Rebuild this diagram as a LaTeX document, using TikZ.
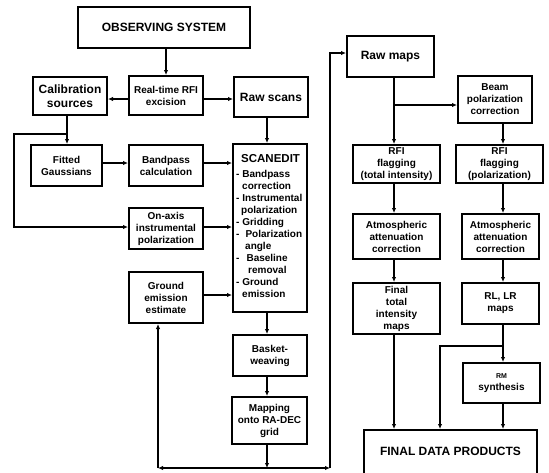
\documentclass[tikz,border=0pt]{standalone}
\usepackage{fontspec}
\setmainfont{Liberation Sans}
\usetikzlibrary{arrows.meta}
\begin{document}
\begin{tikzpicture}[x=1pt,y=-1pt,
  box/.style={draw, line width=2pt, inner sep=1pt, align=center, font=\bfseries\fontsize{10}{12}\selectfont},
  big/.style={font=\bfseries\fontsize{12}{14.5}\selectfont},
  sz/.style 2 args={minimum width=#1pt, minimum height=#2pt},
  arr/.style={line width=1.4pt, -{Latex[length=5pt,width=4.5pt]}},
  ln/.style={line width=1.4pt}]
\useasboundingbox (0,0) rectangle (549,472);
\clip (0,0) rectangle (549,472);
% left column nodes
\node[box, big, sz={172}{41}] (obs) at (164,27.5) {OBSERVING SYSTEM};
\node[box, big, sz={74}{38}] (cal) at (70,96) {Calibration\\sources};
\node[box, sz={74}{39}] (rfi) at (166,95.5) {Real-time RFI\\excision};
\node[box, big, sz={74}{40}] (raws) at (271,97) {Raw scans};
\node[box, sz={71}{41}] (fit) at (66.5,165.5) {Fitted\\Gaussians};
\node[box, sz={74}{41}] (band) at (166,165.5) {Bandpass\\calculation};
\node[box, sz={74}{168}] (scan) at (270,228) {};
\node[anchor=north west, align=left, inner sep=0pt, font=\bfseries\fontsize{10}{12}\selectfont] (scantext) at (236,154)
 {\hspace*{5pt}{\fontsize{11.5}{13}\selectfont SCANEDIT}\\[3.5pt]
  - Bandpass\\
  \hspace*{6pt}correction\\
  - Instrumental\\
  \hspace*{5pt}polarization\\
  - Gridding\\
  -\hspace*{6pt}Polarization\\
  \hspace*{9pt}angle\\
  -\hspace*{7pt}Baseline\\
  \hspace*{12pt}removal\\
  - Ground\\
  \hspace*{6pt}emission};
\node[box, sz={74}{41}] (onaxis) at (166,228.5) {On-axis\\instrumental\\polarization};
\node[box, sz={74}{51}] (ground) at (166,297.5) {Ground\\emission\\estimate};
\node[box, sz={74}{41}] (basket) at (270,355.5) {Basket-\\weaving};
\node[box, sz={75}{47}] (mapping) at (269.5,420.5) {Mapping\\onto RA-DEC\\grid};
% right columns
\node[box, big, sz={87}{41}] (rawmaps) at (390.5,56.5) {Raw maps};
\node[box, sz={74}{47}] (beam) at (495,99.5) {Beam\\polarization\\correction};
\node[box, sz={87}{38}] (rfit) at (396.5,164) {RFI\\flagging\\(total intensity)};
\node[box, sz={87}{38}] (rfip) at (499.5,164) {RFI\\flagging\\(polarization)};
\node[box, sz={87}{45}] (atml) at (396.5,236.5) {Atmospheric\\attenuation\\correction};
\node[box, sz={77}{45}] (atmr) at (500.5,236.5) {Atmospheric\\attenuation\\correction};
\node[box, sz={87}{51}] (finalt) at (396.5,308.5) {Final\\total\\intensity\\maps};
\node[box, sz={77}{41}] (rllr) at (500.5,303.5) {RL, LR\\maps};
\node[box, sz={77}{40}] (rm) at (501.5,383) {{\fontsize{7}{9}\selectfont RM}\\synthesis};
\node[box, big, sz={173}{60}] (fdp) at (450.5,460) {};
\node[big, inner sep=0pt] (fdptext) at (450.5,451) {FINAL DATA PRODUCTS};
% coordinates
\coordinate (j1) at (67,134);
\coordinate (jl) at (14,134);
\coordinate (jl2) at (14,227);
\coordinate (bl) at (158,468);
\coordinate (bm) at (267,468);
\coordinate (br) at (330,468);
\coordinate (tr) at (330,53);
\coordinate (rv) at (394,105);
\coordinate (rr) at (503,346);
\coordinate (rl) at (440,346);
% left arrows
\draw[arr] (obs.south -| rfi.north) -- (rfi.north);
\draw[arr] (rfi.west |- 0,99) -- (cal.east |- 0,99);
\draw[arr] (rfi.east |- 0,99) -- (raws.west |- 0,99);
\draw[arr] (cal.south -| j1) -- (fit.north -| j1);
\draw[arr] (j1) -- (jl) -- (jl2) -- (onaxis.west |- jl2);
\draw[arr] (raws.south -| bm) -- (scan.north -| bm);
\draw[arr] (fit.east |- 0,163) -- (band.west |- 0,163);
\draw[arr] (band.east |- 0,163) -- (scan.west |- 0,163);
\draw[arr] (onaxis.east |- 0,227) -- (scan.west |- 0,227);
\draw[arr] (ground.east |- 0,295) -- (scan.west |- 0,295);
\draw[arr] (scan.south -| bm) -- (basket.north -| bm);
\draw[arr] (basket.south -| bm) -- (mapping.north -| bm);
\draw[arr] (mapping.south -| bm) -- (bm);
\draw[arr] (bm) -- (bl);
\draw[arr] (bl) -- (ground.south -| bl);
\draw[arr] (bm) -- (br);
\draw[arr] (br) -- (tr) -- (rawmaps.west |- tr);
% right arrows
\draw[arr] (rawmaps.south -| rv) -- (rfit.north -| rv);
\draw[arr] (rv) -- (beam.west |- rv);
\draw[arr] (beam.south -| rr) -- (rfip.north -| rr);
\draw[arr] (rfit.south -| rv) -- (atml.north -| rv);
\draw[arr] (rfip.south -| rr) -- (atmr.north -| rr);
\draw[arr] (atml.south -| rv) -- (finalt.north -| rv);
\draw[arr] (atmr.south -| rr) -- (rllr.north -| rr);
\draw[arr] (finalt.south -| rv) -- (fdp.north -| rv);
\draw[arr] (rllr.south -| rr) -- (rm.north -| rr);
\draw[arr] (rr) -- (rl) -- (fdp.north -| rl);
\draw[arr] (rm.south -| rr) -- (fdp.north -| rr);
\end{tikzpicture}
\end{document}
